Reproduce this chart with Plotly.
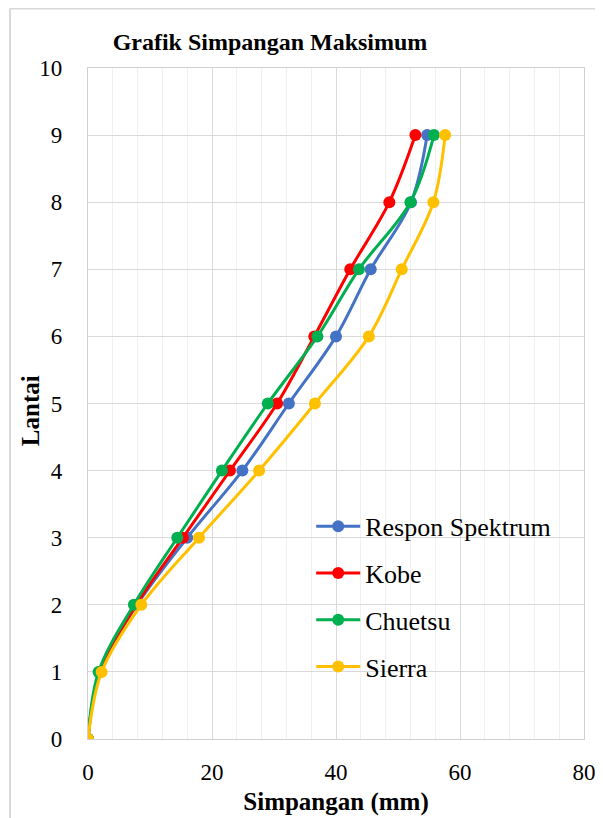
import plotly.graph_objects as go

floors = [0, 1, 2, 3, 4, 5, 6, 7, 8, 9]
respon_spektrum = [0, 1.9, 7.9, 16.0, 24.9, 32.4, 40.0, 45.6, 52.1, 54.7]
kobe = [0, 1.9, 7.8, 15.3, 22.9, 30.5, 36.5, 42.3, 48.6, 52.8]
chuetsu = [0, 1.7, 7.4, 14.4, 21.6, 29.0, 37.0, 43.7, 52.0, 55.8]
sierra = [0, 2.2, 8.6, 17.9, 27.6, 36.6, 45.3, 50.6, 55.7, 57.6]

series = [
    ("Respon Spektrum", respon_spektrum, "#4472C4"),
    ("Kobe", kobe, "#FF0000"),
    ("Chuetsu", chuetsu, "#00B050"),
    ("Sierra", sierra, "#FFC000"),
]

serif = "Liberation Serif"

fig = go.Figure()
for i, (name, vals, color) in enumerate(series):
    fig.add_trace(go.Scatter(
        x=vals, y=floors, name=name, mode="lines+markers",
        line=dict(color=color, width=3, shape="spline", smoothing=1.0),
        marker=dict(color=color, size=12),
        legendgroup=f"g{i}",
    ))

fig.update_layout(
    width=603, height=818,
    paper_bgcolor="white", plot_bgcolor="white",
    margin=dict(l=80, r=27, t=60, b=87),
    title=dict(text="<b>Grafik Simpangan Maksimum</b>", x=0.4345, xanchor="center",
               y=0.9584, yanchor="middle",
               font=dict(family=serif, size=24, color="black")),
    font=dict(family=serif, size=23, color="black"),
    showlegend=True,
    legend=dict(x=0.45, y=0.352, xanchor="left", yanchor="top",
                bgcolor="rgba(0,0,0,0)", tracegroupgap=10, itemwidth=44,
                font=dict(family=serif, size=26, color="black")),
    xaxis=dict(
        range=[0, 80], dtick=20, tick0=0,
        showgrid=True, gridcolor="#D9D9D9", gridwidth=1.3,
        minor=dict(dtick=4, showgrid=True, gridcolor="#F0F0F0", gridwidth=1),
        showline=True, linecolor="#D0D0D0", linewidth=1.3, mirror=True,
        zeroline=False, ticks="", ticklabelstandoff=12,
        title=dict(text="<b>Simpangan (mm)</b>", font=dict(family=serif, size=25, color="black"),
                   standoff=8),
        tickfont=dict(family=serif, size=23, color="black"),
    ),
    yaxis=dict(
        range=[0, 10], dtick=1, tick0=0,
        showgrid=True, gridcolor="#D9D9D9", gridwidth=1.3,
        showline=True, linecolor="#D0D0D0", linewidth=1.3, mirror=True,
        zeroline=False, ticks="", ticklabelstandoff=20,
        tickfont=dict(family=serif, size=23, color="black"),
    ),
    annotations=[dict(
        text="<b>Lantai</b>", textangle=-90, xref="paper", yref="paper",
        x=-0.117, y=0.49, xanchor="center", yanchor="middle", showarrow=False,
        font=dict(family=serif, size=25, color="black"),
    )],
)

# outer chart border (top and left edges visible)
bx = (2 - 80) / 496
by = 1 + (60 - 0.5) / 671
fig.add_shape(type="line", xref="paper", yref="paper", x0=bx, x1=bx, y0=by, y1=-0.2,
              line=dict(color="#D9D9D9", width=2))
fig.add_shape(type="line", xref="paper", yref="paper", x0=bx, x1=1.1, y0=by, y1=by,
              line=dict(color="#D9D9D9", width=2))

fig.write_html("out.html")
